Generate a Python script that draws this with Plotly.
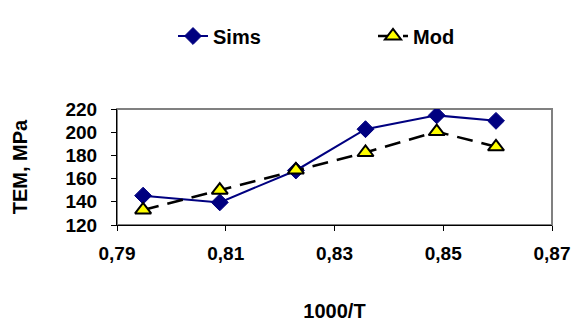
import plotly.graph_objects as go

x_vals = [0.7948, 0.8089, 0.8229, 0.8357, 0.8488, 0.8597]
sims = [145.3, 139.5, 167.0, 202.6, 214.5, 209.8]
mod = [133.0, 150.0, 167.5, 182.5, 200.5, 187.4]

FONT = "Liberation Sans, Arial, sans-serif"

fig = go.Figure()
fig.add_trace(go.Scatter(
    x=x_vals, y=sims, name="Sims", mode="lines+markers",
    line=dict(color="#000080", width=2),
    marker=dict(symbol="diamond", size=13, color="#000080",
                line=dict(color="#000080", width=1)),
))
fig.add_trace(go.Scatter(
    x=x_vals, y=mod, name="Mod", mode="lines+markers",
    line=dict(color="#000000", width=2.5, dash="16px,9px"),
    marker=dict(symbol="triangle-up", size=14, color="#FFFF00",
                line=dict(color="#000000", width=2)),
))

fig.update_layout(
    width=573, height=322,
    margin=dict(l=117, r=21, t=109, b=97, autoexpand=False),
    paper_bgcolor="white", plot_bgcolor="white",
    font=dict(family=FONT, size=19, color="black", weight="bold"),
    separators=", ",
    showlegend=True,
    legend=dict(orientation="h", x=173 / 573, xanchor="left",
                y=1 - 36 / 322, yanchor="middle",
                xref="container", yref="container",
                font=dict(size=20, weight="bold"), entrywidth=155,
                bgcolor="rgba(0,0,0,0)"),
    shapes=[dict(type="rect", xref="paper", yref="paper", x0=0, x1=1,
                 y0=0, y1=1, line=dict(color="#808080", width=2),
                 layer="below")],
)
fig.update_xaxes(
    range=[0.79, 0.87], dtick=0.02, tick0=0.79, tickformat=".2f",
    showgrid=False, zeroline=False, automargin=False,
    showline=True, linecolor="black", linewidth=1,
    ticks="outside", ticklen=5, tickcolor="black", ticklabelstandoff=6,
    title=dict(text="1000/T", standoff=44, font=dict(size=20, weight="bold")),
)
fig.update_yaxes(
    range=[120, 220], dtick=20, tick0=120,
    showgrid=False, zeroline=False, automargin=False,
    showline=True, linecolor="black", linewidth=1,
    ticks="outside", ticklen=5, tickcolor="black", ticklabelstandoff=10,
    title=dict(text="TEM, MPa", standoff=32, font=dict(size=20, weight="bold")),
)

fig.write_html("out.html", config={"displayModeBar": False},
               post_script="document.body.style.margin='0';")
